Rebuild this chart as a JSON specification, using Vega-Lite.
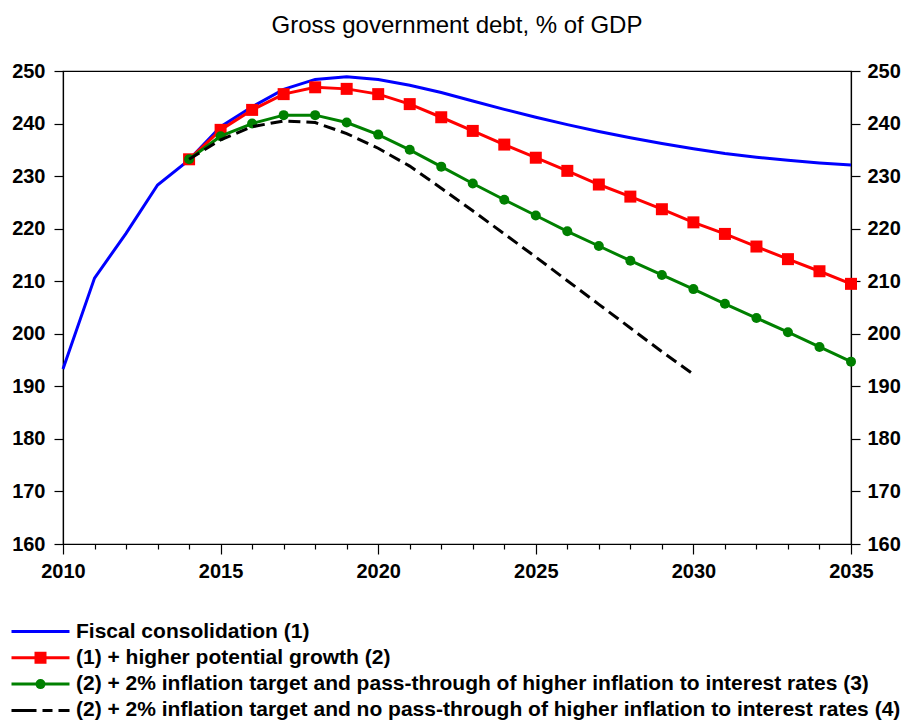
{
  "$schema": "https://vega.github.io/schema/vega-lite/v6.json",
  "autosize": {"type": "none"},
  "padding": {"left": 63, "top": 71, "right": 55, "bottom": 178},
  "width": 788,
  "height": 473,
  "background": "white",
  "title": {
    "text": "Gross government debt, % of GDP",
    "font": "Liberation Sans",
    "fontSize": 24,
    "fontWeight": "normal",
    "color": "black",
    "anchor": "middle",
    "baseline": "alphabetic",
    "offset": 4
  },
  "config": {
    "view": {"stroke": "black", "strokeWidth": 1.2},
    "axis": {
      "grid": false,
      "domainColor": "black",
      "domainWidth": 1.2,
      "tickColor": "black",
      "tickWidth": 1.2,
      "labelFont": "Liberation Sans",
      "labelFontSize": 20,
      "labelFontWeight": "bold",
      "labelColor": "black",
      "labelOverlap": false,
      "title": null
    },
    "axisX": {"labelOverlap": false}
  },
  "datasets": {
    "debt": [
      {"year": 2010, "s": "Fiscal consolidation (1)", "v": 193.3},
      {"year": 2011, "s": "Fiscal consolidation (1)", "v": 210.6},
      {"year": 2012, "s": "Fiscal consolidation (1)", "v": 219.1},
      {"year": 2013, "s": "Fiscal consolidation (1)", "v": 228.3},
      {"year": 2014, "s": "Fiscal consolidation (1)", "v": 233.1},
      {"year": 2015, "s": "Fiscal consolidation (1)", "v": 239.4},
      {"year": 2016, "s": "Fiscal consolidation (1)", "v": 243.2},
      {"year": 2017, "s": "Fiscal consolidation (1)", "v": 246.5},
      {"year": 2018, "s": "Fiscal consolidation (1)", "v": 248.4},
      {"year": 2019, "s": "Fiscal consolidation (1)", "v": 248.9},
      {"year": 2020, "s": "Fiscal consolidation (1)", "v": 248.4},
      {"year": 2021, "s": "Fiscal consolidation (1)", "v": 247.3},
      {"year": 2022, "s": "Fiscal consolidation (1)", "v": 245.9},
      {"year": 2023, "s": "Fiscal consolidation (1)", "v": 244.3},
      {"year": 2024, "s": "Fiscal consolidation (1)", "v": 242.7},
      {"year": 2025, "s": "Fiscal consolidation (1)", "v": 241.2},
      {"year": 2026, "s": "Fiscal consolidation (1)", "v": 239.8},
      {"year": 2027, "s": "Fiscal consolidation (1)", "v": 238.5},
      {"year": 2028, "s": "Fiscal consolidation (1)", "v": 237.3},
      {"year": 2029, "s": "Fiscal consolidation (1)", "v": 236.2},
      {"year": 2030, "s": "Fiscal consolidation (1)", "v": 235.2},
      {"year": 2031, "s": "Fiscal consolidation (1)", "v": 234.3},
      {"year": 2032, "s": "Fiscal consolidation (1)", "v": 233.6},
      {"year": 2033, "s": "Fiscal consolidation (1)", "v": 233.0},
      {"year": 2034, "s": "Fiscal consolidation (1)", "v": 232.5},
      {"year": 2035, "s": "Fiscal consolidation (1)", "v": 232.1},

      {"year": 2014, "s": "(1) + higher potential growth (2)", "v": 233.2},
      {"year": 2015, "s": "(1) + higher potential growth (2)", "v": 238.8},
      {"year": 2016, "s": "(1) + higher potential growth (2)", "v": 242.6},
      {"year": 2017, "s": "(1) + higher potential growth (2)", "v": 245.6},
      {"year": 2018, "s": "(1) + higher potential growth (2)", "v": 246.9},
      {"year": 2019, "s": "(1) + higher potential growth (2)", "v": 246.6},
      {"year": 2020, "s": "(1) + higher potential growth (2)", "v": 245.6},
      {"year": 2021, "s": "(1) + higher potential growth (2)", "v": 243.7},
      {"year": 2022, "s": "(1) + higher potential growth (2)", "v": 241.2},
      {"year": 2023, "s": "(1) + higher potential growth (2)", "v": 238.6},
      {"year": 2024, "s": "(1) + higher potential growth (2)", "v": 236.0},
      {"year": 2025, "s": "(1) + higher potential growth (2)", "v": 233.5},
      {"year": 2026, "s": "(1) + higher potential growth (2)", "v": 231.0},
      {"year": 2027, "s": "(1) + higher potential growth (2)", "v": 228.4},
      {"year": 2028, "s": "(1) + higher potential growth (2)", "v": 226.1},
      {"year": 2029, "s": "(1) + higher potential growth (2)", "v": 223.7},
      {"year": 2030, "s": "(1) + higher potential growth (2)", "v": 221.2},
      {"year": 2031, "s": "(1) + higher potential growth (2)", "v": 219.0},
      {"year": 2032, "s": "(1) + higher potential growth (2)", "v": 216.6},
      {"year": 2033, "s": "(1) + higher potential growth (2)", "v": 214.2},
      {"year": 2034, "s": "(1) + higher potential growth (2)", "v": 211.9},
      {"year": 2035, "s": "(1) + higher potential growth (2)", "v": 209.5},

      {"year": 2014, "s": "(2) + 2% inflation target and pass-through of higher inflation to interest rates (3)", "v": 233.2},
      {"year": 2015, "s": "(2) + 2% inflation target and pass-through of higher inflation to interest rates (3)", "v": 237.6},
      {"year": 2016, "s": "(2) + 2% inflation target and pass-through of higher inflation to interest rates (3)", "v": 240.0},
      {"year": 2017, "s": "(2) + 2% inflation target and pass-through of higher inflation to interest rates (3)", "v": 241.6},
      {"year": 2018, "s": "(2) + 2% inflation target and pass-through of higher inflation to interest rates (3)", "v": 241.6},
      {"year": 2019, "s": "(2) + 2% inflation target and pass-through of higher inflation to interest rates (3)", "v": 240.2},
      {"year": 2020, "s": "(2) + 2% inflation target and pass-through of higher inflation to interest rates (3)", "v": 237.9},
      {"year": 2021, "s": "(2) + 2% inflation target and pass-through of higher inflation to interest rates (3)", "v": 235.0},
      {"year": 2022, "s": "(2) + 2% inflation target and pass-through of higher inflation to interest rates (3)", "v": 231.8},
      {"year": 2023, "s": "(2) + 2% inflation target and pass-through of higher inflation to interest rates (3)", "v": 228.6},
      {"year": 2024, "s": "(2) + 2% inflation target and pass-through of higher inflation to interest rates (3)", "v": 225.5},
      {"year": 2025, "s": "(2) + 2% inflation target and pass-through of higher inflation to interest rates (3)", "v": 222.5},
      {"year": 2026, "s": "(2) + 2% inflation target and pass-through of higher inflation to interest rates (3)", "v": 219.5},
      {"year": 2027, "s": "(2) + 2% inflation target and pass-through of higher inflation to interest rates (3)", "v": 216.7},
      {"year": 2028, "s": "(2) + 2% inflation target and pass-through of higher inflation to interest rates (3)", "v": 213.9},
      {"year": 2029, "s": "(2) + 2% inflation target and pass-through of higher inflation to interest rates (3)", "v": 211.2},
      {"year": 2030, "s": "(2) + 2% inflation target and pass-through of higher inflation to interest rates (3)", "v": 208.5},
      {"year": 2031, "s": "(2) + 2% inflation target and pass-through of higher inflation to interest rates (3)", "v": 205.7},
      {"year": 2032, "s": "(2) + 2% inflation target and pass-through of higher inflation to interest rates (3)", "v": 203.0},
      {"year": 2033, "s": "(2) + 2% inflation target and pass-through of higher inflation to interest rates (3)", "v": 200.3},
      {"year": 2034, "s": "(2) + 2% inflation target and pass-through of higher inflation to interest rates (3)", "v": 197.5},
      {"year": 2035, "s": "(2) + 2% inflation target and pass-through of higher inflation to interest rates (3)", "v": 194.7},

      {"year": 2014, "s": "(2) + 2% inflation target and no pass-through of higher inflation to interest rates (4)", "v": 233.2},
      {"year": 2015, "s": "(2) + 2% inflation target and no pass-through of higher inflation to interest rates (4)", "v": 236.9},
      {"year": 2016, "s": "(2) + 2% inflation target and no pass-through of higher inflation to interest rates (4)", "v": 239.4},
      {"year": 2017, "s": "(2) + 2% inflation target and no pass-through of higher inflation to interest rates (4)", "v": 240.5},
      {"year": 2018, "s": "(2) + 2% inflation target and no pass-through of higher inflation to interest rates (4)", "v": 240.2},
      {"year": 2019, "s": "(2) + 2% inflation target and no pass-through of higher inflation to interest rates (4)", "v": 238.1},
      {"year": 2020, "s": "(2) + 2% inflation target and no pass-through of higher inflation to interest rates (4)", "v": 235.3},
      {"year": 2021, "s": "(2) + 2% inflation target and no pass-through of higher inflation to interest rates (4)", "v": 231.9},
      {"year": 2022, "s": "(2) + 2% inflation target and no pass-through of higher inflation to interest rates (4)", "v": 227.7},
      {"year": 2023, "s": "(2) + 2% inflation target and no pass-through of higher inflation to interest rates (4)", "v": 223.4},
      {"year": 2024, "s": "(2) + 2% inflation target and no pass-through of higher inflation to interest rates (4)", "v": 219.0},
      {"year": 2025, "s": "(2) + 2% inflation target and no pass-through of higher inflation to interest rates (4)", "v": 214.6},
      {"year": 2026, "s": "(2) + 2% inflation target and no pass-through of higher inflation to interest rates (4)", "v": 210.1},
      {"year": 2027, "s": "(2) + 2% inflation target and no pass-through of higher inflation to interest rates (4)", "v": 205.6},
      {"year": 2028, "s": "(2) + 2% inflation target and no pass-through of higher inflation to interest rates (4)", "v": 201.1},
      {"year": 2029, "s": "(2) + 2% inflation target and no pass-through of higher inflation to interest rates (4)", "v": 196.6},
      {"year": 2030, "s": "(2) + 2% inflation target and no pass-through of higher inflation to interest rates (4)", "v": 192.3}
    ]
  },
  "data": {"name": "debt"},
  "resolve": {"axis": {"y": "independent"}},
  "encoding": {
    "x": {
      "field": "year", "type": "quantitative",
      "scale": {"domain": [2010, 2035], "nice": false, "zero": false},
      "axis": {
        "values": [2010, 2011, 2012, 2013, 2014, 2015, 2016, 2017, 2018, 2019, 2020, 2021, 2022, 2023, 2024, 2025, 2026, 2027, 2028, 2029, 2030, 2031, 2032, 2033, 2034, 2035],
        "format": "d",
        "labelExpr": "datum.value % 5 === 0 ? datum.label : ''",
        "labelOverlap": false,
        "labelFlush": false,
        "labelBound": false,
        "tickSize": {"condition": {"test": "datum.value % 5 === 0", "value": 10}, "value": 5},
        "labelPadding": 7
      }
    }
  },
  "layer": [
    {
      "transform": [{"filter": "slice(datum.s, -3) === '(1)'"}],
      "mark": {"type": "line", "strokeWidth": 3, "color": "#0000ff"},
      "encoding": {
        "y": {
          "field": "v", "type": "quantitative",
          "scale": {"domain": [160, 250], "nice": false, "zero": false},
          "axis": {
            "orient": "left",
            "values": [160, 170, 180, 190, 200, 210, 220, 230, 240, 250],
            "tickSize": 9,
            "labelPadding": 9
          }
        }
      }
    },
    {
      "transform": [{"filter": "slice(datum.s, -3) === '(2)'"}],
      "mark": {"type": "line", "strokeWidth": 3, "color": "#ff0000"},
      "encoding": {
        "y": {"field": "v", "type": "quantitative", "axis": null}
      }
    },
    {
      "transform": [{"filter": "slice(datum.s, -3) === '(2)'"}],
      "mark": {"type": "point", "shape": "square", "filled": true, "size": 144, "color": "#ff0000", "opacity": 1},
      "encoding": {
        "y": {
          "field": "v", "type": "quantitative",
          "axis": {
            "orient": "right",
            "values": [160, 170, 180, 190, 200, 210, 220, 230, 240, 250],
            "tickSize": 9,
            "labelPadding": 7
          }
        }
      }
    },
    {
      "transform": [{"filter": "slice(datum.s, -3) === '(3)'"}],
      "mark": {"type": "line", "strokeWidth": 3, "color": "#008000"},
      "encoding": {
        "y": {"field": "v", "type": "quantitative", "axis": null}
      }
    },
    {
      "transform": [{"filter": "slice(datum.s, -3) === '(3)'"}],
      "mark": {"type": "point", "shape": "circle", "filled": true, "size": 100, "color": "#008000", "opacity": 1},
      "encoding": {
        "y": {"field": "v", "type": "quantitative", "axis": null}
      }
    },
    {
      "transform": [{"filter": "slice(datum.s, -3) === '(4)'"}],
      "mark": {"type": "line", "strokeWidth": 3, "color": "#000000", "strokeDash": [12, 6]},
      "encoding": {
        "y": {"field": "v", "type": "quantitative", "axis": null}
      }
    },
    {
      "transform": [{"filter": "false"}],
      "mark": {"type": "point", "filled": false, "strokeWidth": 3, "opacity": 1},
      "encoding": {
        "x": {"field": "year", "type": "quantitative"},
        "color": {
          "field": "s", "type": "nominal", "sort": null,
          "scale": {
            "domain": [
              "Fiscal consolidation (1)",
              "(1) + higher potential growth (2)",
              "(2) + 2% inflation target and pass-through of higher inflation to interest rates (3)",
              "(2) + 2% inflation target and no pass-through of higher inflation to interest rates (4)"
            ],
            "range": ["#0000ff", "#ff0000", "#008000", "#000000"]
          },
          "legend": {
            "title": null,
            "orient": "none",
            "legendX": -57,
            "legendY": 550,
            "direction": "vertical",
            "padding": 0,
            "labelFont": "Liberation Sans",
            "labelFontSize": 21,
            "labelFontWeight": "bold",
            "labelColor": "black",
            "labelLimit": 1000,
            "labelOffset": 49,
            "symbolSize": 100,
            "symbolStrokeWidth": 3,
            "symbolOffset": 0,
            "rowPadding": 4.3
          }
        },
        "shape": {
          "field": "s", "type": "nominal", "sort": null,
          "scale": {
            "domain": [
              "Fiscal consolidation (1)",
              "(1) + higher potential growth (2)",
              "(2) + 2% inflation target and pass-through of higher inflation to interest rates (3)",
              "(2) + 2% inflation target and no pass-through of higher inflation to interest rates (4)"
            ],
            "range": [
              "M-1,0H10.6",
              "M-1,0H10.6M3.9,-0.9H5.7V0.9H3.9ZM4.5,-0.3H5.1V0.3H4.5Z",
              "M-1,0H10.6M4.1,0A0.7,0.7,0,1,0,5.5,0A0.7,0.7,0,1,0,4.1,0M4.6,0A0.2,0.2,0,1,0,5,0A0.2,0.2,0,1,0,4.6,0",
              "M-1,0H4M5.2,0H7.2M8.4,0H10.6"
            ]
          },
          "legend": {
            "title": null,
            "orient": "none",
            "legendX": -57,
            "legendY": 550,
            "direction": "vertical",
            "padding": 0,
            "labelFont": "Liberation Sans",
            "labelFontSize": 21,
            "labelFontWeight": "bold",
            "labelColor": "black",
            "labelLimit": 1000,
            "labelOffset": 49,
            "symbolSize": 100,
            "symbolStrokeWidth": 3,
            "symbolOffset": 0,
            "rowPadding": 4.3
          }
        }
      }
    }
  ]
}
